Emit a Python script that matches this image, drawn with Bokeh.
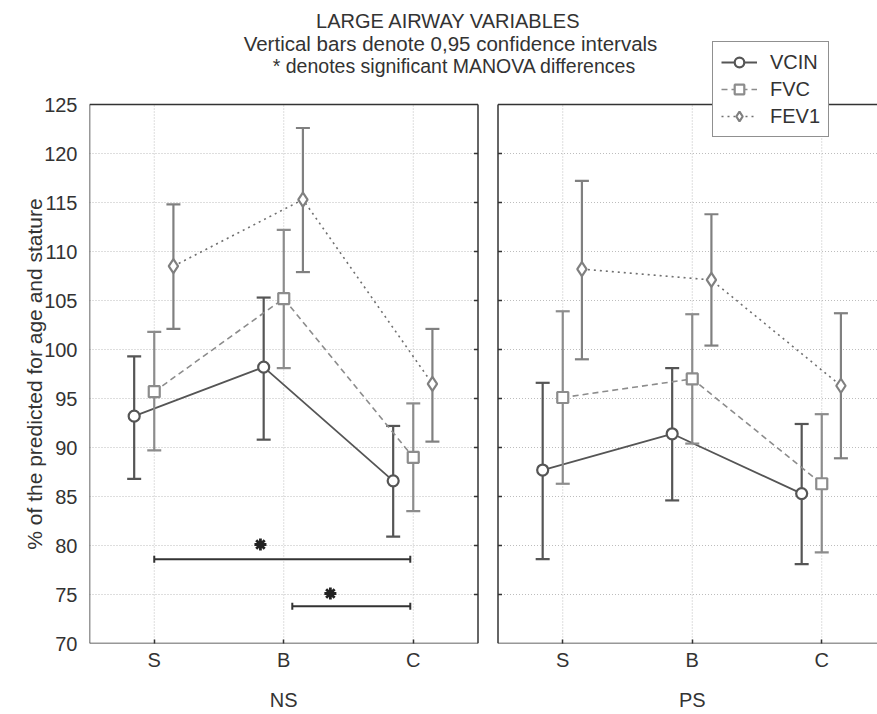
from bokeh.plotting import figure
from bokeh.models import Range1d, FixedTicker, LinearAxis, Legend, LegendItem, Label
from bokeh.embed import file_html
from bokeh.resources import INLINE

# ---------------- data ----------------
title_lines = ["LARGE AIRWAY VARIABLES",
               "Vertical bars denote 0,95 confidence intervals",
               "* denotes significant MANOVA differences"]
y_label = "% of the predicted for age and stature"
groups = ["NS", "PS"]
categories = ["S", "B", "C"]
series = ["VCIN", "FVC", "FEV1"]
y_ticks = [70, 75, 80, 85, 90, 95, 100, 105, 110, 115, 120, 125]

vcin_ns = [93.2, 98.2, 86.6]
vcin_ns_lo = [86.8, 90.8, 80.9]
vcin_ns_hi = [99.3, 105.3, 92.2]
fvc_ns = [95.7, 105.2, 89.0]
fvc_ns_lo = [89.7, 98.1, 83.5]
fvc_ns_hi = [101.8, 112.2, 94.5]
fev1_ns = [108.5, 115.3, 96.5]
fev1_ns_lo = [102.1, 107.9, 90.6]
fev1_ns_hi = [114.8, 122.6, 102.1]

vcin_ps = [87.7, 91.4, 85.3]
vcin_ps_lo = [78.6, 84.6, 78.1]
vcin_ps_hi = [96.6, 98.1, 92.4]
fvc_ps = [95.1, 97.0, 86.3]
fvc_ps_lo = [86.3, 90.4, 79.3]
fvc_ps_hi = [103.9, 103.6, 93.4]
fev1_ps = [108.2, 107.1, 96.3]
fev1_ps_lo = [99.0, 100.4, 88.9]
fev1_ps_hi = [117.2, 113.8, 103.7]

# significance bars (NS panel, category-index coordinates)
sig_x0 = [0.0, 1.066]
sig_x1 = [1.977, 1.977]
sig_y = [78.6, 73.8]
star_x = [0.82, 1.36]
star_y = [80.1, 75.1]

# ---------------- layout ----------------
FONT = "Liberation Sans"
TXT = "#333333"
W, H = 877, 714
BL = 89            # frame left (px)
FRAME_BOTTOM = 643  # px from top where y = 70
FH = 539           # px height of 70..125
PXU = 129.5        # px per category unit
GAP = 20 / PXU     # gap between panels
panel_base = {"NS": 0.0, "PS": 3.0 + GAP}
ylo, yhi = y_ticks[0], y_ticks[-1]
pyu = FH / (yhi - ylo)
x_end = -0.5 + (W - BL) / PXU
y_end = ylo + FRAME_BOTTOM / pyu

p = figure(width=W, height=H, output_backend="svg", toolbar_location=None,
           x_range=Range1d(-0.5, x_end), y_range=Range1d(ylo, y_end),
           min_border_left=BL, min_border_right=0, min_border_top=0,
           min_border_bottom=H - FRAME_BOTTOM)
p.outline_line_color = None
p.background_fill_color = "white"
p.border_fill_color = "white"
p.xgrid.visible = False
p.ygrid.visible = False

# y axis (tick labels)
ya = p.yaxis[0]
ya.ticker = FixedTicker(ticks=y_ticks)
ya.major_label_text_font = FONT
ya.major_label_text_font_size = "20px"
ya.major_label_text_color = TXT
ya.major_label_standoff = 12
ya.major_tick_in = 0
ya.major_tick_out = 0
ya.minor_tick_line_color = None
ya.axis_line_color = None

# y axis title, centred on the 70..125 span
y_mid = (ylo + yhi) / 2
yl = LinearAxis(ticker=FixedTicker(ticks=[y_mid]),
                major_label_overrides={y_mid: y_label},
                major_label_orientation="vertical")
yl.major_label_text_font = FONT
yl.major_label_text_font_size = "21px"
yl.major_label_text_color = TXT
yl.major_label_standoff = -4
yl.major_tick_in = 0
yl.major_tick_out = 0
yl.minor_tick_line_color = None
yl.axis_line_color = None
p.add_layout(yl, "left")

# x axis with category ticks
tick_pos, tick_lab = [], {}
for g in groups:
    for i, c in enumerate(categories):
        xv = panel_base[g] + i
        tick_pos.append(xv)
        tick_lab[xv] = c
xa = p.xaxis[0]
xa.ticker = FixedTicker(ticks=tick_pos)
xa.major_label_overrides = tick_lab
xa.major_label_text_font = FONT
xa.major_label_text_font_size = "20px"
xa.major_label_text_color = TXT
xa.major_label_standoff = 5
xa.major_tick_in = 4
xa.major_tick_out = 0
xa.major_tick_line_color = "#333333"
xa.major_tick_line_width = 1.5
xa.minor_tick_line_color = None
xa.axis_line_color = None

# group axis
gpos = [panel_base[g] + 1 for g in groups]
ga = LinearAxis(ticker=FixedTicker(ticks=gpos),
                major_label_overrides={v: g for v, g in zip(gpos, groups)})
ga.major_label_text_font = FONT
ga.major_label_text_font_size = "20px"
ga.major_label_text_color = TXT
ga.major_label_standoff = 15
ga.major_tick_in = 0
ga.major_tick_out = 0
ga.minor_tick_line_color = None
ga.axis_line_color = None
p.add_layout(ga, "below")

# grid + frames per panel
tick_len = 4 / PXU
inner = y_ticks[1:-1]
for gi, g in enumerate(groups):
    b = panel_base[g]
    left, right = b - 0.5, b + 2.5
    p.segment([left] * len(inner), inner, [right] * len(inner), inner,
              line_color="#bdbdbd", line_width=1, line_dash="1 2")
    xs = [b + i for i in range(len(categories))]
    p.segment(xs, [ylo] * len(xs), xs, [yhi] * len(xs),
              line_color="#bdbdbd", line_width=1, line_dash="1 2")
    p.segment([left, left, left, right], [ylo, yhi, ylo, ylo],
              [right, right, left, right], [ylo, yhi, yhi, yhi],
              line_color="#333333", line_width=1.5)
    if gi == 0:
        p.segment([right] * len(inner), inner, [right - tick_len] * len(inner), inner,
                  line_color="#333333", line_width=1.5)
    else:
        p.segment([left] * len(inner), inner, [left + tick_len] * len(inner), inner,
                  line_color="#333333", line_width=1.5)

# series
style = {
    "VCIN": dict(off=-0.155, color="#555555", bar="#555555", dash="solid", lw=1.8,
                 marker="circle", size=11),
    "FVC": dict(off=0.0, color="#8c8c8c", bar="#8c8c8c", dash="6 4", lw=1.6,
                marker="square", size=11),
    "FEV1": dict(off=0.148, color="#707070", bar="#808080", dash="2 4", lw=1.6,
                 marker="diamond", size=14),
}
data = {
    ("VCIN", "NS"): (vcin_ns, vcin_ns_lo, vcin_ns_hi),
    ("FVC", "NS"): (fvc_ns, fvc_ns_lo, fvc_ns_hi),
    ("FEV1", "NS"): (fev1_ns, fev1_ns_lo, fev1_ns_hi),
    ("VCIN", "PS"): (vcin_ps, vcin_ps_lo, vcin_ps_hi),
    ("FVC", "PS"): (fvc_ps, fvc_ps_lo, fvc_ps_hi),
    ("FEV1", "PS"): (fev1_ps, fev1_ps_lo, fev1_ps_hi),
}
legend_rs = {s: [] for s in series}
for s in series:
    st = style[s]
    for g in groups:
        m, lo, hi = data[(s, g)]
        xs = [panel_base[g] + i + st["off"] for i in range(len(categories))]
        lr = p.line(xs, m, line_color=st["color"], line_width=st["lw"], line_dash=st["dash"])
        p.segment(xs, lo, xs, hi, line_color=st["bar"], line_width=2.2)
        p.scatter(xs, hi, marker="dash", size=14, line_color=st["bar"], line_width=2.2)
        p.scatter(xs, lo, marker="dash", size=14, line_color=st["bar"], line_width=2.2)
        mr = p.scatter(xs, m, marker=st["marker"], size=st["size"], fill_color="white",
                       line_color=st["bar"], line_width=2.2)
        if g == groups[0]:
            legend_rs[s] = [lr, mr]

# significance bars
p.segment(sig_x0, sig_y, sig_x1, sig_y, line_color="#333333", line_width=2)
cap = 0.35
p.segment(sig_x0, [y - cap for y in sig_y], sig_x0, [y + cap for y in sig_y],
          line_color="#333333", line_width=2)
p.segment(sig_x1, [y - cap for y in sig_y], sig_x1, [y + cap for y in sig_y],
          line_color="#333333", line_width=2)
p.scatter(star_x, star_y, marker="asterisk", size=12, line_color="#222222", line_width=2.8)

# legend
legend = Legend(items=[LegendItem(label=s, renderers=legend_rs[s]) for s in series],
                location=(623, 506))
legend.label_text_font = FONT
legend.label_text_font_size = "20px"
legend.label_text_color = TXT
legend.glyph_width = 36
legend.glyph_height = 24
legend.label_standoff = 13
legend.spacing = 3
legend.padding = 8
legend.margin = 0
legend.border_line_color = "#222222"
legend.border_line_width = 1.5
legend.background_fill_color = "white"
legend.background_fill_alpha = 1
p.add_layout(legend)

# title lines
title_y_px = [20, 43, 65]
title_x_px = [448, 450, 454]
title_sizes = ["20px", "20.5px", "19.5px"]
for t, ypx, xpx, fs in zip(title_lines, title_y_px, title_x_px, title_sizes):
    p.add_layout(Label(x=-0.5 + (xpx - BL) / PXU,
                       y=ylo + (FRAME_BOTTOM - ypx) / pyu, text=t,
                       text_align="center", text_baseline="middle",
                       text_font=FONT, text_font_size=fs, text_color=TXT))

open("out.html", "w").write(file_html(p, INLINE))
